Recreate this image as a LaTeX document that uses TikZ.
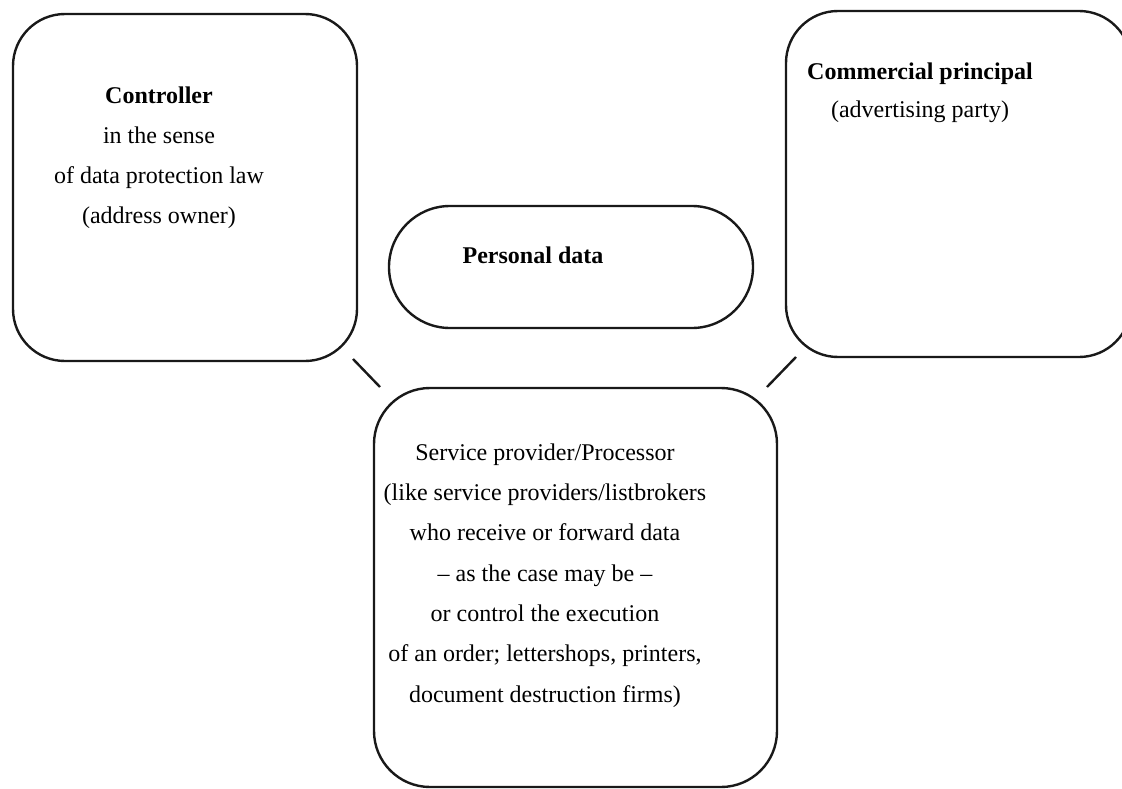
\documentclass[tikz,border=0pt]{standalone}
\usepackage{fontspec}
\setmainfont{Liberation Serif}
\begin{document}
\begin{tikzpicture}[x=1pt,y=-1pt,
  box/.style={draw=black!90, line width=2.4pt, rectangle, rounded corners=52pt, inner sep=0pt, outer sep=0pt},
  label/.style={align=center, inner sep=0pt, anchor=base, font=\fontsize{24}{40}\selectfont},
  link/.style={draw=black!90, line width=2.4pt}]
\useasboundingbox (0,0) rectangle (1122,789);
\clip (0,0) rectangle (1122,789);
\fill[white] (0,0) rectangle (1122,789);
% boxes
\node[box, minimum width=344pt, minimum height=347pt] (ctrl) at (185,187.5) {};
\node[box, minimum width=345pt, minimum height=346pt] (comm) at (958.5,184) {};
\node[box, rounded corners=61pt, minimum width=364pt, minimum height=122pt] (pdata) at (571,267) {};
\node[box, rounded corners=56pt, minimum width=403pt, minimum height=399pt] (proc) at (575.5,587.5) {};
% texts (anchor base = baseline of the last line)
\node[label] (ctrlt) at (159,223) {\textbf{Controller}\\in the sense\\of data protection law\\(address owner)};
\node[label, font=\fontsize{24}{38}\selectfont] (commt) at (920,118) {\textbf{Commercial principal}\\(advertising party)};
\node[label] (pdatat) at (533,263) {\textbf{Personal data}};
\node[label, font=\fontsize{24}{40.3}\selectfont] (proct) at (545,702) {Service provider/Processor\\(like service providers/listbrokers\\who receive or forward data\\– as the case may be –\\or control the execution\\of an order; lettershops, printers,\\document destruction firms)};
% connectors
\coordinate (l1) at (353,359);
\coordinate (l2) at (380,387);
\coordinate (r1) at (796,357);
\coordinate (r2) at (767,387);
\draw[link] (l1) -- (l2);
\draw[link] (r1) -- (r2);
\end{tikzpicture}
\end{document}
